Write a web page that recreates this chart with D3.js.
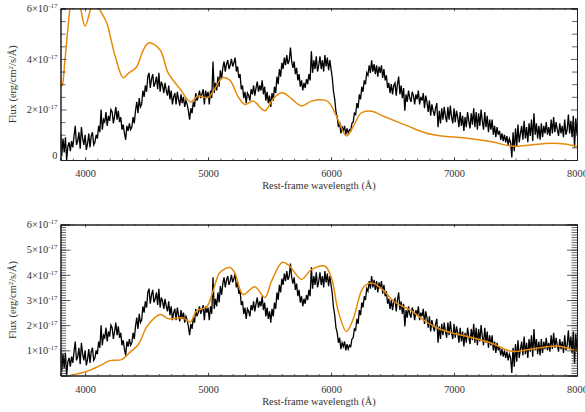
<!DOCTYPE html>
<html>
<head>
<meta charset="utf-8">
<script src="https://d3js.org/d3.v7.min.js"></script>
<style>
body { margin: 0; background: #fff; }
text { font-family: "Liberation Serif", serif; fill: #333; }
</style>
</head>
<body>
<div id="chart"></div>
<script>
// observed spectrum, one row per 100 A, flux in 1e-17 erg/cm2/s/A
var obsStart = 3800, obsStep = 10;
var obsFlux = [
    1.05,.15,.85,.3,.9,.0,.55,.7,.35,.75,
    .5,.95,1.35,.6,.75,1.1,.45,1.3,.85,.6,
    1.0,.4,.65,1.05,.5,.95,1.1,.6,.7,1.0,
    .85,1.35,1.1,2.0,1.2,1.6,1.5,1.9,1.35,1.75,
    1.55,2.0,1.9,1.45,1.75,2.1,1.6,1.95,1.5,1.7,
    1.2,1.4,1.05,.8,1.35,1.15,1.45,1.2,1.3,1.7,
    1.45,1.95,2.3,1.85,2.45,2.1,2.2,2.75,2.5,2.95,
    2.7,3.3,3.45,2.85,3.2,3.4,2.9,3.05,3.3,2.8,
    3.45,2.7,3.1,2.95,2.65,3.05,2.75,2.55,2.95,2.4,
    2.75,2.2,2.5,2.65,2.2,2.7,2.4,2.15,2.6,2.25,
    2.5,2.1,2.35,2.2,1.95,1.6,2.05,1.85,2.3,2.1,
    2.65,2.35,2.5,2.75,2.45,2.6,2.8,2.2,2.75,2.5,
    2.7,2.2,2.75,2.45,3.9,2.65,3.05,2.75,3.3,2.9,
    3.55,3.2,3.65,3.9,3.5,3.8,3.95,3.6,3.75,4.0,
    3.7,3.85,4.05,3.5,3.7,3.25,3.4,2.8,2.95,2.45,
    2.7,2.25,2.65,2.55,2.35,2.8,2.6,2.95,2.55,2.85,
    3.1,2.7,2.95,2.75,3.15,2.6,2.9,2.35,2.7,2.25,
    2.55,2.1,2.65,2.35,2.9,2.65,3.3,3.0,3.6,3.3,
    3.85,3.6,4.05,3.75,4.15,3.8,3.95,4.45,3.9,3.65,
    3.9,3.4,3.65,3.15,3.4,2.9,3.15,2.75,3.05,2.85,
    3.2,3.0,3.4,3.15,4.3,3.45,3.95,3.6,4.1,3.5,
    3.75,4.1,3.6,3.95,3.5,4.15,3.7,4.05,3.55,3.95,
    3.6,3.25,2.7,2.4,1.9,1.7,1.3,1.5,1.05,1.3,
    1.15,1.35,1.0,1.25,1.05,1.2,1.15,1.45,1.5,1.85,
    1.8,2.25,2.05,2.6,2.4,2.9,2.7,3.15,3.0,3.45,
    3.35,3.75,3.45,3.95,3.5,3.8,3.4,3.75,3.3,3.7,
    3.45,3.75,3.25,3.6,3.15,3.35,2.85,3.05,2.65,3.0,
    2.6,2.95,3.05,2.55,3.0,3.3,2.6,2.95,2.45,2.85,
    1.95,2.6,2.3,2.75,2.45,2.3,2.7,2.55,2.2,2.6,
    2.4,2.75,2.2,2.5,2.35,2.65,2.05,2.55,2.3,1.9,
    2.35,1.75,2.2,1.95,1.75,2.05,2.25,1.3,1.95,1.45,
    2.05,1.6,2.1,1.75,1.5,2.1,1.6,2.15,1.7,1.45,
    2.05,1.5,1.95,1.7,1.3,1.9,1.35,1.75,1.15,1.7,
    1.3,1.9,1.55,1.25,1.85,1.4,2.05,1.3,1.9,1.2,
    1.85,1.35,2.0,1.55,1.2,1.9,1.3,1.75,1.1,1.6,
    1.2,1.6,1.0,1.35,.9,1.3,1.0,1.15,.8,1.05,
    .75,1.0,.7,.95,.6,.85,.7,.1,1.1,.35,
    1.25,.55,1.4,.7,1.05,1.35,.8,1.55,.85,1.3,
    .7,1.45,.95,1.6,.75,1.85,1.0,1.45,.85,1.35,
    .8,1.45,.9,1.35,1.05,1.5,1.0,1.3,.95,1.6,
    1.05,1.7,1.1,1.5,1.2,.95,1.45,1.05,1.35,.9,
    1.6,1.0,1.2,1.8,1.05,1.55,.9,1.75,.5,1.65,
    1.0
];

// model 1, top panel
var model1Wave = [3800,3813,3835,3862,3884,3920,3963,4000,4047,4085,4114,4174,4242,4310,4350,4418,4472,4520,4608,4675,4770,4857,4920,5000,5055,5117,5177,5245,5300,5367,5462,5530,5598,5624,5678,5760,5841,5950,5990,6058,6125,6180,6247,6329,6437,6627,6763,6898,7088,7305,7467,7575,7792,7900,8000];
var model1Flux = [2.9,2.95,3.9,5.3,6.2,6.7,6.0,5.3,6.0,6.4,6.0,5.45,4.15,3.26,3.42,3.68,4.34,4.64,4.37,3.45,2.83,2.3,2.53,2.47,2.83,3.26,3.16,2.5,2.2,2.33,1.95,2.43,2.66,2.63,2.43,2.14,2.33,2.37,2.24,1.58,.95,1.32,1.87,1.93,1.71,1.34,1.08,.95,.87,.72,.55,.57,.66,.63,.53];

// model 2, bottom panel
var model2Wave = [3876,4011,4120,4201,4296,4364,4431,4499,4567,4616,4675,4797,4857,4906,4987,5041,5095,5177,5217,5285,5380,5462,5516,5605,5665,5705,5760,5841,5950,6003,6058,6125,6180,6261,6329,6410,6518,6654,6763,6898,7142,7305,7467,7630,7819,7900,8000];
var model2Flux = [0,.16,.39,.59,.63,.92,1.22,1.91,2.3,2.42,2.26,2.29,2.13,2.57,2.72,3.36,4.08,4.29,4.08,3.22,3.53,3.1,3.75,4.5,4.34,4.08,3.82,4.21,4.34,3.88,2.57,1.75,2.24,3.49,3.68,3.45,2.92,2.57,2.17,1.82,1.51,1.28,.96,1.05,1.17,1.12,.95];

var xMajor = [4000, 5000, 6000, 7000, 8000];
var xMinor = d3.range(3800, 8001, 100);
var yMajorTop = [0, 2, 4, 6];
var yMinorTop = [.5, 1, 1.5, 2.5, 3, 3.5, 4.5, 5, 5.5];
var yMajorBottom = [1, 2, 3, 4, 5, 6];
var yMinorBottom = d3.range(1, 60).map(function (d) { return d / 10; });

var width = 585, height = 412;
var orange = "#E68A0A";

var svg = d3.select("#chart").append("svg")
    .attr("width", width)
    .attr("height", height)
    .style("display", "block");

var x = d3.scaleLinear().domain([3800, 8000]).range([60.5, 577]);

var obsData = obsFlux.map(function (f, i) { return [obsStart + i * obsStep, f]; });

function superLabel(sel, d) {
    // "6x10^-17" with raised exponent
    sel.text(null);
    if (d === 0) { sel.text("0"); return; }
    sel.append("tspan").text(d + "\u00d710");
    sel.append("tspan").attr("dy", -4).attr("font-size", 7).text("-17");
}

function drawPanel(id, top, bottom, yMajor, yMinor, majorLen, minorLen, modelWave, modelFlux) {
    var y = d3.scaleLinear().domain([0, 6]).range([bottom, top]);
    var g = svg.append("g").attr("class", id);

    svg.append("clipPath").attr("id", "clip-" + id)
        .append("rect")
        .attr("x", x.range()[0]).attr("y", top)
        .attr("width", x.range()[1] - x.range()[0]).attr("height", bottom - top);

    var line = d3.line()
        .x(function (d) { return x(d[0]); })
        .y(function (d) { return y(d[1]); });

    g.append("path")
        .datum(obsData)
        .attr("clip-path", "url(#clip-" + id + ")")
        .attr("d", line)
        .attr("fill", "none")
        .attr("stroke", "#000")
        .attr("stroke-width", 1.3);

    var smooth = d3.line()
        .x(function (d) { return x(d[0]); })
        .y(function (d) { return y(d[1]); })
        .curve(d3.curveCatmullRom.alpha(0.5));

    g.append("path")
        .datum(modelWave.map(function (w, i) { return [w, modelFlux[i]]; }))
        .attr("clip-path", "url(#clip-" + id + ")")
        .attr("d", smooth)
        .attr("fill", "none")
        .attr("stroke", orange)
        .attr("stroke-width", 1.5);

    // axes: minor ticks first, then majors with labels
    function axis(a, tx, ty) {
        var ag = g.append("g").attr("transform", "translate(" + tx + "," + ty + ")").call(a);
        ag.selectAll("path").attr("stroke", "#222").attr("stroke-width", 1);
        ag.selectAll("line").attr("stroke", "#222").attr("stroke-width", 0.7);
        return ag;
    }
    function none() { return ""; }

    axis(d3.axisBottom(x).tickValues(xMinor).tickSize(-1.5).tickFormat(none), 0, bottom);
    axis(d3.axisTop(x).tickValues(xMinor).tickSize(-1.5).tickFormat(none), 0, top);
    axis(d3.axisLeft(y).tickValues(yMinor).tickSize(-minorLen).tickFormat(none), x.range()[0], 0);
    axis(d3.axisRight(y).tickValues(yMinor).tickSize(-minorLen).tickFormat(none), x.range()[1], 0);

    var xb = axis(d3.axisBottom(x).tickValues(xMajor).tickSize(-3).tickFormat(d3.format("d")), 0, bottom);
    xb.selectAll("text")
        .attr("y", 10).attr("dy", "0.71em")
        .attr("font-size", 10.4).attr("font-family", "Liberation Serif").attr("fill", "#333");
    axis(d3.axisTop(x).tickValues(xMajor).tickSize(-3).tickFormat(none), 0, top);
    axis(d3.axisRight(y).tickValues(yMajor).tickSize(-majorLen).tickFormat(none), x.range()[1], 0);

    var yl = axis(d3.axisLeft(y).tickValues(yMajor).tickSize(-majorLen).tickFormat(""), x.range()[0], 0);
    yl.selectAll(".tick text")
        .attr("x", -3)
        .attr("dy", function (d) { return d === 0 ? "-0.1em" : "0.32em"; })
        .attr("font-size", 10.4).attr("font-family", "Liberation Serif").attr("fill", "#333")
        .each(function (d) { superLabel(d3.select(this), d); });

    g.append("text")
        .attr("x", 319).attr("y", bottom + 29)
        .attr("text-anchor", "middle").attr("font-size", 10.4)
        .text("Rest-frame wavelength (\u00c5)");

    var yt = g.append("text")
        .attr("transform", "translate(16," + ((top + bottom) / 2) + ") rotate(-90)")
        .attr("text-anchor", "middle").attr("font-size", 10.4);
    yt.append("tspan").text("Flux (erg/cm");
    yt.append("tspan").attr("dy", -3).attr("font-size", 7).text("2");
    yt.append("tspan").attr("dy", 3).text("/s/\u00c5)");
}

drawPanel("top", 8.4, 160, yMajorTop, yMinorTop, 6, 5, model1Wave, model1Flux);
drawPanel("bottom", 224.5, 375.5, yMajorBottom, yMinorBottom, 10, 5.5, model2Wave, model2Flux);
</script>
</body>
</html>
